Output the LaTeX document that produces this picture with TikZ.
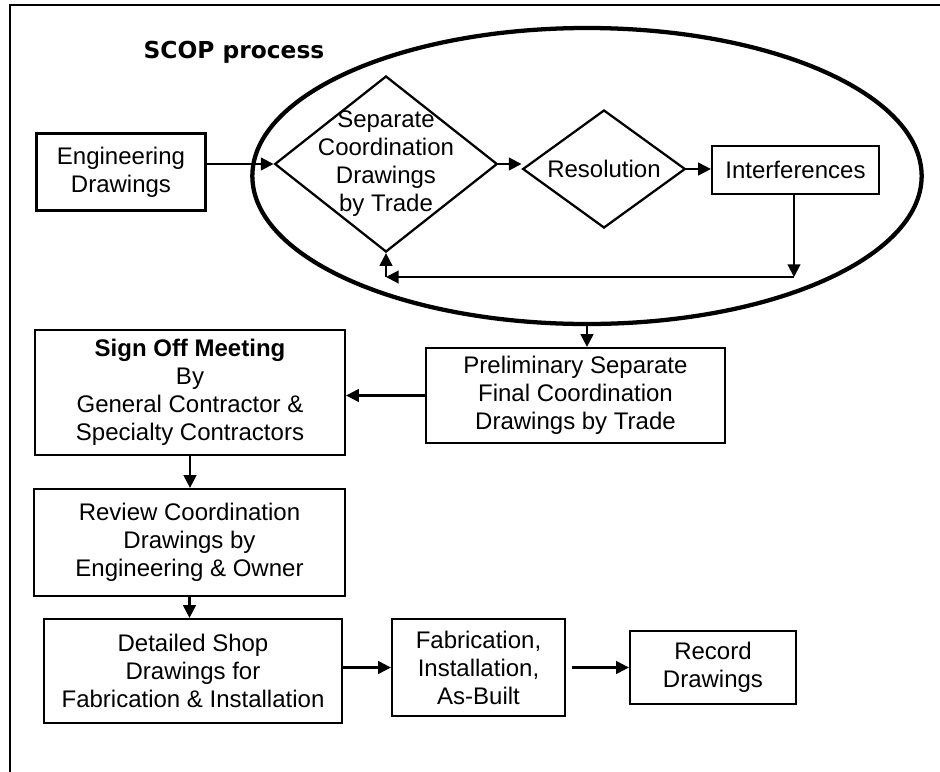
\documentclass[tikz,border=0pt]{standalone}
\usepackage{fontspec}
\setmainfont{Liberation Sans}
\newfontfamily\titlefont{DejaVu Sans}
\usetikzlibrary{arrows.meta}
\usetikzlibrary{shapes.geometric}

\begin{document}
\begin{tikzpicture}[x=0.75pt,y=-0.75pt,
    box/.style={draw,line width=1.7pt,align=center,inner sep=0pt,font=\fontsize{18}{21}\selectfont},
    decision/.style={draw,diamond,line width=1.7pt,inner sep=0pt},
    inside/.style={align=center,font=\fontsize{18}{21}\selectfont},
    flow/.style={line width=1.6pt,-{Triangle[length=9.5pt,width=9.5pt]}}]
    \useasboundingbox (0,0) rectangle (940,772);
    % frame
    \draw[line width=1.5pt] (940,5) -- (10,5) -- (10,772);
    \node[font=\titlefont\bfseries\fontsize{17.5}{21}\selectfont] (title) at (234,52) {SCOP process};
    \node[draw,ellipse,line width=3.2pt,minimum width=502pt,minimum height=222pt] (scop) at (587,176) {};
    % inside the loop
    \node[box,minimum width=126.75pt,minimum height=57.75pt] (eng) at (121,172) {Engineering\\Drawings};
    \node[decision,minimum width=167pt,minimum height=132pt,
      label={[inside]center:Separate\\Coordination\\Drawings\\by Trade}] (sep) at (386,164) {};
    \node[decision,minimum width=122pt,minimum height=88.5pt,
      label={[inside]center:Resolution}] (res) at (604,169) {};
    \node[box,minimum width=125.25pt,minimum height=36pt] (interf) at (795.5,170) {Interferences};
    \coordinate (back1) at (794,277);
    \coordinate (back2) at (sep.south |- back1);
    % after the loop
    \node[box,minimum width=224.25pt,minimum height=71.25pt] (prelim) at (575.5,395.5) {Preliminary Separate\\Final Coordination\\Drawings by Trade};
    \node[box,minimum width=232.5pt,minimum height=93.75pt] (signoff) at (190,392.5) {\textbf{Sign Off Meeting}\\By\\General Contractor \&\\Specialty Contractors};
    \node[box,minimum width=233.25pt,minimum height=80.25pt] (review) at (189.5,542.5) {Review Coordination\\Drawings by\\Engineering \& Owner};
    \node[box,minimum width=223.5pt,minimum height=78pt] (detail) at (193,671) {Detailed Shop\\Drawings for\\Fabrication \& Installation};
    \node[box,minimum width=129.75pt,minimum height=72.75pt] (fab) at (478.5,667.5) {Fabrication,\\Installation,\\As-Built};
    \node[box,minimum width=124.5pt,minimum height=54.75pt] (record) at (713,667.5) {Record\\Drawings};

    \draw[flow] (eng.east |- sep.west) -- (sep.west);
    \draw[flow] (sep.east) -- (sep.east -| res.west);
    \draw[flow] (res.east) -- (res.east -| interf.west);
    \draw[flow] (interf.south -| back1) -- (back1);
    \draw[flow] (back1) -- (back2);
    \draw[flow] (back2) -- (sep.south);
    \draw[flow] (scop.south) -- (scop.south |- prelim.north);
    \draw[flow] (prelim.west) -- (prelim.west -| signoff.east);
    \draw[flow] (signoff.south) -- (signoff.south |- review.north);
    \draw[flow] (review.south) -- (review.south |- detail.north);
    \draw[flow] (fab.west -| detail.east) -- (fab.west);
    \draw[flow] ([xshift=4.5pt]fab.east) -- (record.west);
\end{tikzpicture}
\end{document}
